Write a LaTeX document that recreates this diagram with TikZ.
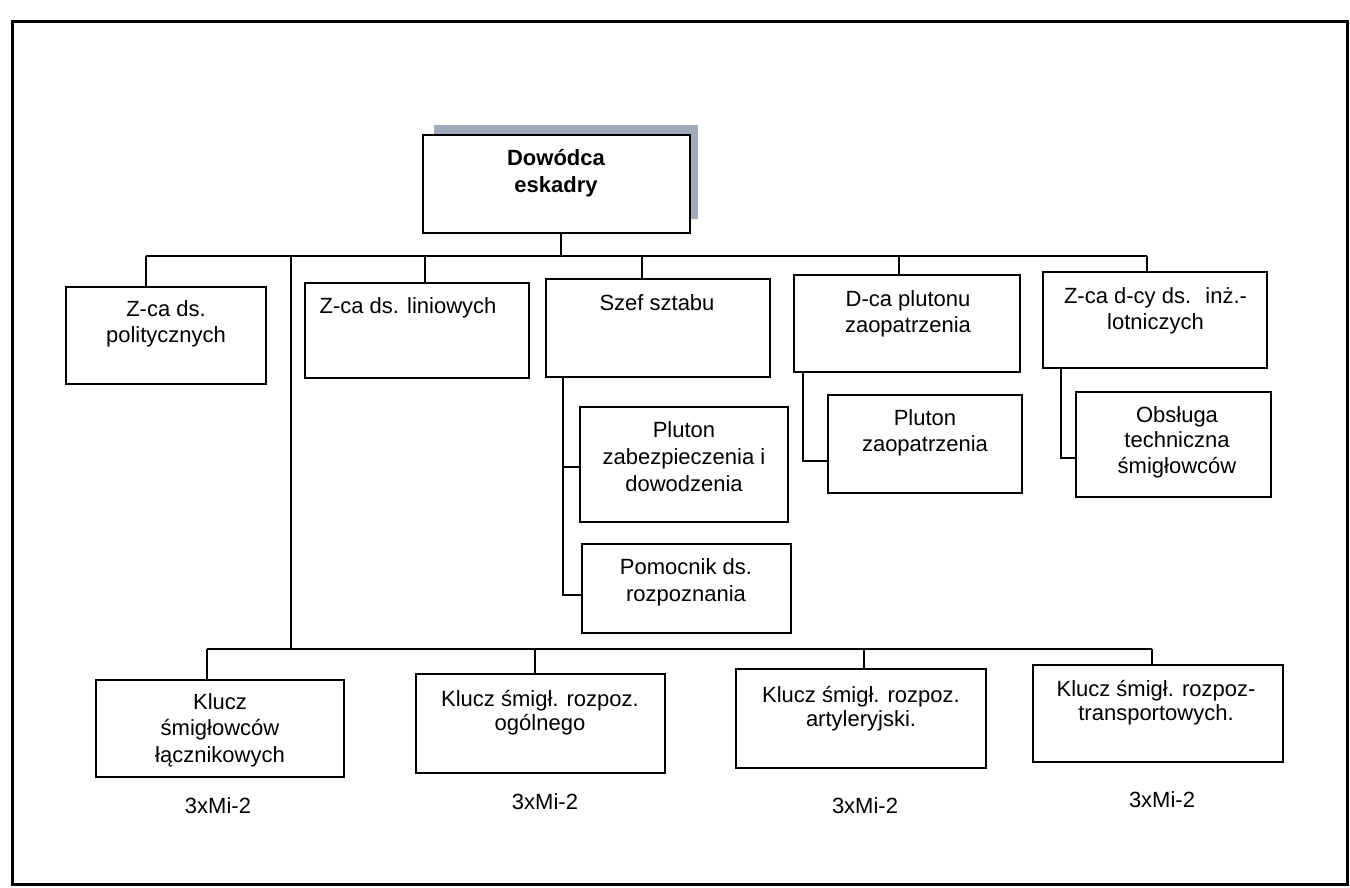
\documentclass[tikz,border=0pt]{standalone}
\usepackage{fontspec}
\setmainfont{Liberation Sans}
\usetikzlibrary{calc}
\definecolor{shadowc}{RGB}{160,170,186}
\begin{document}
\begin{tikzpicture}[x=1pt,y=-1pt,
  box/.style={draw, line width=1.8pt, fill=white, inner sep=0pt},
  txt/.style={font=\fontsize{22}{26}\selectfont, align=center, inner sep=0pt, anchor=north},
  lbl/.style={font=\fontsize{22}{26}\selectfont, inner sep=0pt, anchor=base},
  conn/.style={line width=1.5pt},
  frame/.style={line width=3pt}]
\useasboundingbox (0,0) rectangle (1350,887);
\draw[frame] (12,21) rectangle (1347,884);

% top box with shadow
\fill[shadowc] (434,125) rectangle (698,219);
\node[box, minimum width=267pt, minimum height=98pt] (dow) at (556.5,184) {};
\node[txt, font=\fontsize{22}{27}\selectfont\bfseries] (tdow) at (556,149) {Dowódca\\eskadry};

% second row
\node[box, minimum width=200pt, minimum height=97pt] (pol) at (166,335.5) {};
\node[box, minimum width=224pt, minimum height=95pt] (lin) at (417,330.5) {};
\node[box, minimum width=224pt, minimum height=98pt] (szef) at (658,328) {};
\node[box, minimum width=226pt, minimum height=97pt] (dca) at (907,323.5) {};
\node[box, minimum width=224pt, minimum height=96pt] (zca) at (1155,320) {};

\node[txt] (tpol) at (166,300) {Z-ca ds.\\politycznych};
\node[txt] (tlin) at (408,297) {Z-ca ds. liniowych};
\node[txt] (tszef) at (657,294) {Szef sztabu};
\node[txt] (tdca) at (908,290) {D-ca plutonu\\zaopatrzenia};
\node[txt] (tzca) at (1155.5,287) {Z-ca d-cy ds.~ inż.-\\lotniczych};

% sub boxes
\node[box, minimum width=208pt, minimum height=115pt] (plz) at (684,464.5) {};
\node[box, minimum width=209pt, minimum height=89pt] (pom) at (686.5,588.5) {};
\node[box, minimum width=194pt, minimum height=98pt] (pzp) at (925,444) {};
\node[box, minimum width=195pt, minimum height=105pt] (obs) at (1173.5,444.5) {};

\node[txt, font=\fontsize{22}{27}\selectfont] (tplz) at (684,421) {Pluton\\zabezpieczenia i\\dowodzenia};
\node[txt, font=\fontsize{22}{27}\selectfont] (tpom) at (686,558) {Pomocnik ds.\\rozpoznania};
\node[txt] (tpzp) at (925,409) {Pluton\\zaopatrzenia};
\node[txt, font=\fontsize{22}{25.5}\selectfont] (tobs) at (1177,406) {Obsługa\\techniczna\\śmigłowców};

% bottom row
\node[box, minimum width=248pt, minimum height=97pt] (k1) at (220,728.5) {};
\node[box, minimum width=249pt, minimum height=99pt] (k2) at (540.5,723.5) {};
\node[box, minimum width=250pt, minimum height=99pt] (k3) at (861,718.5) {};
\node[box, minimum width=250pt, minimum height=97pt] (k4) at (1158,713.5) {};

\node[txt, font=\fontsize{22}{26.5}\selectfont] (tk1) at (220,693) {Klucz\\śmigłowców\\łącznikowych};
\node[txt, font=\fontsize{22}{24.5}\selectfont] (tk2) at (540,690) {Klucz śmigł. rozpoz.\\ogólnego};
\node[txt, font=\fontsize{22}{24.5}\selectfont] (tk3) at (861,686) {Klucz śmigł. rozpoz.\\artyleryjski.};
\node[txt, font=\fontsize{22}{24.5}\selectfont] (tk4) at (1156,680) {Klucz śmigł. rozpoz-\\transportowych.};

\node[lbl] (m1) at (218,813) {3xMi-2};
\node[lbl] (m2) at (545,809) {3xMi-2};
\node[lbl] (m3) at (865,813) {3xMi-2};
\node[lbl] (m4) at (1162,807) {3xMi-2};

% top bus
\coordinate (jpol) at (146,256);
\coordinate (jlong) at (291,256);
\coordinate (jlin) at (425,256);
\coordinate (jdow) at (561,256);
\coordinate (jszef) at (642,256);
\coordinate (jdca) at (899,256);
\coordinate (jzca) at (1147,256);
\draw[conn] (jpol) -- (jzca);
\draw[conn] (jdow) -- (jdow |- dow.south);
\draw[conn] (jpol) -- (jpol |- pol.north);
\draw[conn] (jlin) -- (jlin |- lin.north);
\draw[conn] (jszef) -- (jszef |- szef.north);
\draw[conn] (jdca) -- (jdca |- dca.north);
\draw[conn] (jzca) -- (jzca |- zca.north);

% bottom bus
\coordinate (jk1) at (207,649);
\coordinate (jk2) at (535,649);
\coordinate (jk3) at (864,649);
\coordinate (jk4) at (1152,649);
\draw[conn] (jlong) -- (jlong |- jk1);
\draw[conn] (jk1) -- (jk4);
\draw[conn] (jk1) -- (jk1 |- k1.north);
\draw[conn] (jk2) -- (jk2 |- k2.north);
\draw[conn] (jk3) -- (jk3 |- k3.north);
\draw[conn] (jk4) -- (jk4 |- k4.north);

% sub connectors
\coordinate (sx) at (563,0);
\coordinate (pomE) at ([yshift=-6.5pt]pom.west);
\coordinate (plzE) at ([yshift=-2.5pt]plz.west);
\draw[conn] (sx |- szef.south) -- (sx |- pomE) -- (pomE);
\draw[conn] (sx |- plzE) -- (plzE);
\coordinate (dx) at (803,0);
\coordinate (pzpE) at ([yshift=-17pt]pzp.west);
\draw[conn] (dx |- dca.south) -- (dx |- pzpE) -- (pzpE);
\coordinate (zx) at (1061,0);
\coordinate (obsE) at ([yshift=-13.5pt]obs.west);
\draw[conn] (zx |- zca.south) -- (zx |- obsE) -- (obsE);
\end{tikzpicture}
\end{document}
